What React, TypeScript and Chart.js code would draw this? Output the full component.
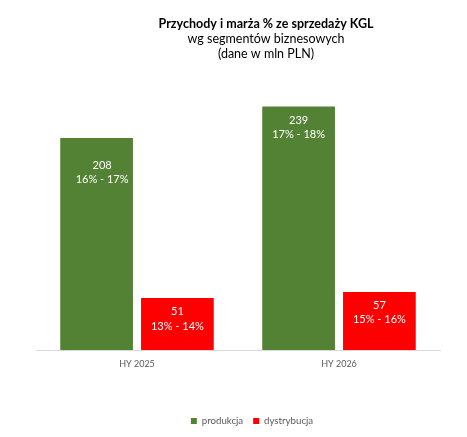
import React, { useEffect, useRef } from "react";
import { Chart, registerables } from "chart.js";

Chart.register(...registerables);

const categories = ["HY 2025", "HY 2026"];
const produkcja = [208, 239];
const dystrybucja = [51, 57];
const produkcjaMargin = ["16% - 17%", "17% - 18%"];
const dystrybucjaMargin = ["13% - 14%", "15% - 16%"];
const titleText = "Przychody i marża % ze sprzedaży KGL";
const subtitleLines = ["wg segmentów biznesowych", "(dane w mln PLN)"];

const FONT = "Lato, 'Open Sans', 'DejaVu Sans', sans-serif";

// label placement style (offset of the label block from the bar's top, per dataset/category)
const labelOffsets = [
  [{ dx: 5.5, dy: 13.5 }, { dx: 0, dy: 0 }],
  [{ dx: 0, dy: 0 }, { dx: 0, dy: 0 }],
];

const titlePlugin = {
  id: "customTitle",
  afterDraw(chart: any) {
    const ctx = chart.ctx;
    const cx = 266;
    ctx.save();
    ctx.fillStyle = "#000000";
    ctx.textAlign = "center";
    ctx.textBaseline = "middle";
    ctx.font = `bold 12.5px ${FONT}`;
    ctx.fillText(titleText, cx, 23.5);
    ctx.font = `12.5px ${FONT}`;
    ctx.fillText(subtitleLines[0], cx, 39);
    ctx.fillText(subtitleLines[1], cx, 53.5);
    ctx.restore();
  },
};

const legendShiftPlugin = {
  id: "legendShift",
  afterLayout(chart: any) {
    if (chart.legend) {
      chart.legend.left += 14;
      chart.legend.right += 14;
    }
  },
};

const labelPlugin = {
  id: "barLabels",
  afterDatasetsDraw(chart: any) {
    const ctx = chart.ctx;
    const margins = [produkcjaMargin, dystrybucjaMargin];
    chart.data.datasets.forEach((ds: any, di: number) => {
      const meta = chart.getDatasetMeta(di);
      meta.data.forEach((bar: any, i: number) => {
        const off = labelOffsets[di][i];
        ctx.save();
        ctx.fillStyle = "#ffffff";
        ctx.font = `11px ${FONT}`;
        ctx.textAlign = "center";
        ctx.textBaseline = "middle";
        ctx.fillText(String(ds.data[i]), bar.x + off.dx, bar.y + 13.5 + off.dy);
        ctx.fillText(margins[di][i], bar.x + off.dx, bar.y + 28 + off.dy);
        ctx.restore();
      });
    });
  },
};

export default function App() {
  const ref = useRef<HTMLCanvasElement>(null);
  useEffect(() => {
    if (!ref.current) return;
    const chart = new Chart(ref.current, {
      type: "bar",
      data: {
        labels: categories,
        datasets: [
          { label: "produkcja", data: produkcja, backgroundColor: "#548235" },
          { label: "dystrybucja", data: dystrybucja, backgroundColor: "#ff0000" },
        ],
      },
      options: {
        animation: false,
        responsive: true,
        maintainAspectRatio: false,
        layout: { padding: { left: 36, right: 27, top: 80, bottom: 1.15 } },
        scales: {
          x: {
            grid: { display: false, drawTicks: false },
            border: { color: "#d9d9d9", width: 1 },
            ticks: { color: "#595959", font: { family: FONT, size: 9 }, padding: 9 },
            afterFit: (scale: any) => {
              scale.height = 56.15;
            },
          },
          y: { display: false, min: 0, max: 265 },
        },
        plugins: {
          title: { display: false },
          legend: {
            position: "bottom",
            labels: {
              boxWidth: 6,
              boxHeight: 6,
              color: "#595959",
              font: { family: FONT, size: 9.7 },
              padding: 10,
            },
          },
          tooltip: { enabled: false },
        },
      },
      plugins: [labelPlugin, titlePlugin, legendShiftPlugin],
    });
    return () => chart.destroy();
  }, []);
  return (
    <div style={{ position: "fixed", left: 0, top: 0, width: 467, height: 437, background: "#fff" }}>
      <canvas ref={ref} />
    </div>
  );
}
